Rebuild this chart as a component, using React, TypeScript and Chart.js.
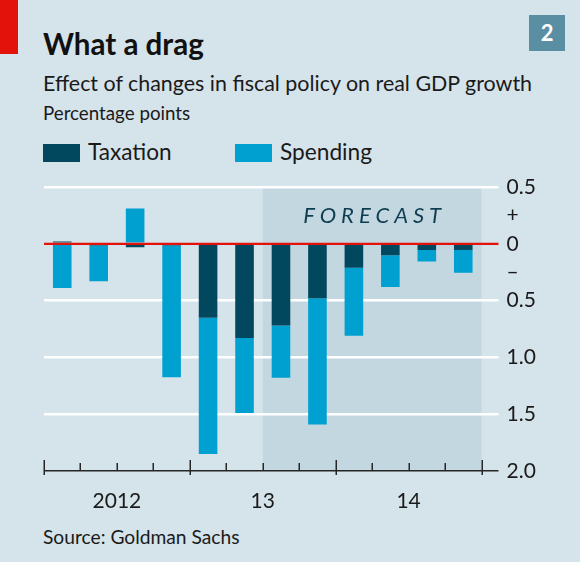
import React, { useEffect, useLayoutEffect, useRef } from "react";
import { Chart, registerables } from "chart.js";

Chart.register(...registerables);

// ---- data ----
const quarters = [
  "2012 Q1", "2012 Q2", "2012 Q3", "2012 Q4",
  "2013 Q1", "2013 Q2", "2013 Q3", "2013 Q4",
  "2014 Q1", "2014 Q2", "2014 Q3", "2014 Q4",
];
const taxation = [0.02, -0.015, -0.03, -0.015, -0.65, -0.83, -0.72, -0.48, -0.21, -0.1, -0.055, -0.055];
const spending = [-0.39, -0.315, 0.31, -1.16, -1.2, -0.66, -0.46, -1.11, -0.6, -0.28, -0.1, -0.2];
const yearLabels = ["2012", "13", "14"];
const forecastStartIndex = 6;
const forecastLabel = "FORECAST";
const yTickValues = [0.5, 0.25, 0, -0.25, -0.5, -1, -1.5, -2];
const yTickLabels = ["0.5", "+", "0", "–", "0.5", "1.0", "1.5", "2.0"];
const whiteGridValues = [0.5, -0.5, -1, -1.5];

// ---- styles ----
const BG = "#d5e3ea";
const SHADE = "#c2d7e0";
const DARK = "#01475e";
const LIGHT = "#00a0d1";
const RED = "#e3120b";
const TEXT = "#1a1a1a";
const FONT = "Lato, 'Open Sans', sans-serif";

function gridColor(v: number | undefined) {
  if (v === undefined) return "rgba(0,0,0,0)";
  if (v === -2) return "#262626";
  if (whiteGridValues.includes(v)) return "#ffffff";
  return "rgba(0,0,0,0)";
}

const decorPlugin = {
  id: "decor",
  beforeDraw(chart: any) {
    const { ctx, scales } = chart;
    const x = scales.x;
    const y = scales.y;
    const step = x.getPixelForValue(1) - x.getPixelForValue(0);
    const left = x.getPixelForValue(forecastStartIndex) - step / 2;
    const right = x.getPixelForValue(quarters.length - 1) + step / 2;
    const top = y.getPixelForValue(0.5);
    const bottom = y.getPixelForValue(-2);
    ctx.save();
    ctx.fillStyle = SHADE;
    ctx.fillRect(left, top, right - left, bottom - top);
    // FORECAST label
    ctx.font = `italic 22px ${FONT}`;
    ctx.fillStyle = "#0e3d50";
    const spacing = 5;
    (ctx as any).letterSpacing = `${spacing}px`;
    const w = ctx.measureText(forecastLabel).width - spacing;
    ctx.textAlign = "left";
    ctx.textBaseline = "middle";
    ctx.fillText(forecastLabel, (left + right) / 2 - w / 2, y.getPixelForValue(0.25) + 1);
    (ctx as any).letterSpacing = "0px";
    ctx.restore();
  },
  afterDatasetsDraw(chart: any) {
    const { ctx, scales } = chart;
    const x = scales.x;
    const y = scales.y;
    const step = x.getPixelForValue(1) - x.getPixelForValue(0);
    const x0 = x.getPixelForValue(0) - step / 2;
    const zeroY = y.getPixelForValue(0);
    const axisY = y.getPixelForValue(-2);
    ctx.save();
    // red zero line
    ctx.strokeStyle = RED;
    ctx.lineWidth = 2.2;
    ctx.beginPath();
    ctx.moveTo(chart.chartArea.left, zeroY);
    ctx.lineTo(chart.chartArea.right + 17, zeroY);
    ctx.stroke();
    // quarter ticks
    ctx.strokeStyle = "#262626";
    ctx.lineWidth = 1.5;
    for (let k = 0; k <= quarters.length; k++) {
      const px = Math.round(x0 + k * step) + 0.25;
      const major = k % 4 === 0;
      ctx.beginPath();
      ctx.moveTo(px, axisY - (major ? 11 : 8));
      ctx.lineTo(px, axisY + (major ? 4 : 0));
      ctx.stroke();
    }
    // year labels
    ctx.fillStyle = TEXT;
    ctx.font = `21px ${FONT}`;
    ctx.textAlign = "center";
    ctx.textBaseline = "middle";
    yearLabels.forEach((lab, j) => {
      ctx.fillText(lab, x0 + (j * 4 + 2) * step, axisY + 30);
    });
    ctx.restore();
  },
};

const texts = [
  { t: "What a drag", left: 42.5, top: 28.4, size: 30, weight: 700, w: 160.5 },
  { t: "Effect of changes in fiscal policy on real GDP growth", left: 42.5, top: 72.5, size: 20.5, weight: 400, w: 489 },
  { t: "Percentage points", left: 42.5, top: 102.7, size: 19.5, weight: 400, w: 147 },
  { t: "Taxation", left: 88, top: 140.3, size: 23, weight: 400, w: 83.5 },
  { t: "Spending", left: 280, top: 140.3, size: 23, weight: 400, w: 91.7 },
  { t: "Source: Goldman Sachs", left: 43.3, top: 526.7, size: 19.5, weight: 400, w: 197 },
];

export default function App() {
  const canvasRef = useRef<HTMLCanvasElement | null>(null);
  const textRefs = useRef<(HTMLSpanElement | null)[]>([]);

  useLayoutEffect(() => {
    textRefs.current.forEach((el, i) => {
      if (!el) return;
      el.style.transform = "none";
      const actual = el.offsetWidth;
      if (actual > 0) el.style.transform = `scaleX(${texts[i].w / actual})`;
    });
  }, []);

  useEffect(() => {
    const canvas = canvasRef.current;
    if (!canvas) return;
    const chart = new Chart(canvas, {
      type: "bar",
      data: {
        labels: quarters,
        datasets: [
          { label: "Taxation", data: taxation, backgroundColor: DARK, categoryPercentage: 1, barPercentage: 0.51 },
          { label: "Spending", data: spending, backgroundColor: LIGHT, categoryPercentage: 1, barPercentage: 0.51 },
        ],
      },
      options: {
        responsive: false,
        animation: false,
        layout: { padding: { left: 44, top: 187, right: 0, bottom: 91 } },
        plugins: { legend: { display: false }, tooltip: { enabled: false } },
        scales: {
          x: { stacked: true, display: false },
          y: {
            stacked: true,
            position: "right",
            min: -2,
            max: 0.5,
            afterFit: (s: any) => { s.width = 98.5; },
            afterBuildTicks: (s: any) => { s.ticks = yTickValues.map((v) => ({ value: v })); },
            ticks: {
              autoSkip: false,
              padding: 8,
              color: TEXT,
              font: { family: FONT, size: 21 },
              callback: (v: any) => {
                const i = yTickValues.indexOf(Number(v));
                return i >= 0 ? yTickLabels[i] : "";
              },
            },
            grid: {
              color: (c: any) => gridColor(c.tick?.value),
              tickColor: (c: any) => gridColor(c.tick?.value),
              lineWidth: (c: any) => (c.tick?.value === -2 ? 1.5 : 2.5),
              tickLength: 17,
            },
            border: { display: false },
          },
        },
      },
      plugins: [decorPlugin],
    });
    return () => chart.destroy();
  }, []);

  return (
    <div style={{ position: "fixed", left: 0, top: 0, width: 580, height: 562, background: BG, overflow: "hidden", fontFamily: FONT, color: TEXT }}>
      <div style={{ position: "absolute", left: 0, top: 0, width: 18, height: 54, background: RED }} />
      <div style={{ position: "absolute", left: 529.3, top: 15, width: 35.7, height: 35.7, background: "#5a8ea2", color: "#fff", fontWeight: 700, fontSize: 22, lineHeight: "35.7px", textAlign: "center" }}>2</div>
      <div style={{ position: "absolute", left: 43.3, top: 144, width: 36.7, height: 17.7, background: DARK }} />
      <div style={{ position: "absolute", left: 235, top: 144, width: 36.7, height: 17.7, background: LIGHT }} />
      {texts.map((t, i) => (
        <span
          key={i}
          ref={(el) => { textRefs.current[i] = el; }}
          style={{ position: "absolute", left: t.left, top: t.top, fontSize: t.size, fontWeight: t.weight, lineHeight: 1, whiteSpace: "nowrap", transformOrigin: "left center", display: "inline-block", color: i === 0 ? "#111" : TEXT }}
        >
          {t.t}
        </span>
      ))}
      <canvas ref={canvasRef} width={580} height={562} style={{ position: "absolute", left: 0, top: 0, width: 580, height: 562 }} />
    </div>
  );
}
